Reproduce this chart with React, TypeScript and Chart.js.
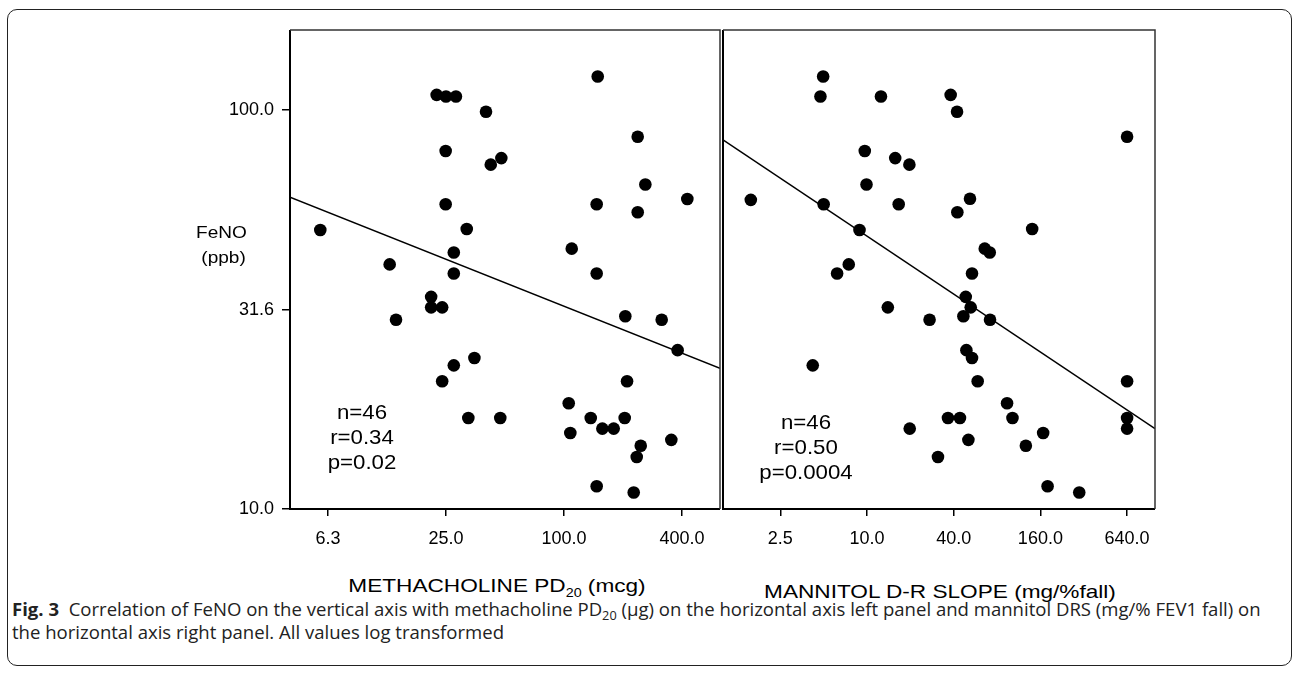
import React, { useEffect, useRef } from "react";
import { Chart, registerables } from "chart.js";

Chart.register(...registerables);

// ---- tick values and labels ----
const FENO_TICKS = [10, 31.6, 100];
const FENO_TICK_LABELS = ["10.0", "31.6", "100.0"];
const METH_TICKS = [6.25, 25, 100, 400];
const METH_TICK_LABELS = ["6.3", "25.0", "100.0", "400.0"];
const MANN_TICKS = [2.5, 10, 40, 160, 640];
const MANN_TICK_LABELS = ["2.5", "10.0", "40.0", "160.0", "640.0"];

// ---- axis ranges ----
const FENO_RANGE = [10, 158.5];
const METH_RANGE = [4, 625];
const MANN_RANGE = [1, 1000];

// ---- left panel: methacholine PD20 (mcg) vs FeNO (ppb) ----
const METH_PD20 = [
  148.6, 22.4, 25.0, 28.1, 40.0, 237.7, 24.9, 47.9, 42.3, 260, 425.8, 24.9, 146.8, 237.7, 5.71,
  31.9, 109.5, 27.4, 12.9, 27.4, 146.8, 21.0, 21.0, 23.9, 13.9, 205.5, 315, 380, 34.9, 27.4,
  23.9, 209.7, 105.7, 32.5, 47.3, 136.9, 204, 156.9, 179.3, 107.7, 246.3, 352.8, 235, 146.8, 226.8,
];
const METH_FENO = [
  121.2, 109.0, 108.0, 108.0, 98.9, 85.6, 78.9, 75.7, 72.9, 65.0, 59.8, 58.0, 58.0, 55.4, 50.0,
  50.3, 44.9, 43.9, 41.0, 38.9, 38.9, 34.0, 32.0, 32.0, 29.8, 30.4, 29.8, 25.0, 23.9, 22.9,
  20.9, 20.9, 18.4, 16.9, 16.9, 16.9, 16.9, 15.9, 15.9, 15.5, 14.4, 14.9, 13.5, 11.4, 11.0,
];
const METH_FIT_X = [4, 625];
const METH_FIT_Y = [60.4, 22.5];

// ---- right panel: mannitol D-R slope (mg/%fall) vs FeNO (ppb) ----
const MANN_DRS = [
  4.96, 4.75, 12.5, 38.1, 42.2, 640, 9.65, 15.7, 19.7, 9.92, 1.56, 5.0, 16.6, 51.9, 42.4, 140.3,
  8.87, 65.7, 71.2, 7.47, 6.2, 53.6, 48.5, 52.5, 46.7, 13.95, 27.2, 71.5, 49.0, 53.6, 4.2, 58.7,
  640, 93.9, 36.5, 44.2, 102.4, 640, 19.8, 640, 167.2, 50.6, 126.8, 31.1, 179.5, 297.8,
];
const MANN_FENO = [
  121.2, 108.0, 108.0, 109.0, 98.9, 85.6, 78.9, 75.7, 72.9, 65.0, 59.5, 58.0, 58.0, 59.9, 55.4, 50.3,
  50.0, 44.9, 43.9, 41.0, 38.9, 38.9, 34.0, 32.0, 30.4, 32.0, 29.8, 29.8, 25.0, 23.9, 22.9, 20.9,
  20.9, 18.4, 16.9, 16.9, 16.9, 16.9, 15.9, 15.9, 15.5, 14.9, 14.4, 13.5, 11.4, 11.0,
];
const MANN_FIT_X = [1, 1000];
const MANN_FIT_Y = [84.1, 15.9];

const FONT = "Arial, 'Liberation Sans', Helvetica, sans-serif";

const boxPlugin = {
  id: "panelBox",
  afterDatasetsDraw(chart: any) {
    const { ctx, chartArea: a } = chart;
    ctx.save();
    ctx.strokeStyle = "#000";
    ctx.lineWidth = 2;
    ctx.beginPath();
    ctx.moveTo(a.left, a.top);
    ctx.lineTo(a.left, a.bottom);
    ctx.lineTo(a.right, a.bottom);
    ctx.stroke();
    ctx.strokeStyle = "#333";
    ctx.lineWidth = 1.5;
    ctx.beginPath();
    ctx.moveTo(a.left, a.top);
    ctx.lineTo(a.right, a.top);
    ctx.lineTo(a.right, a.bottom);
    ctx.stroke();
    ctx.restore();
  },
};

function tickLookup(values: number[], labels: string[]) {
  return (v: number) => {
    for (let i = 0; i < values.length; i++) {
      if (Math.abs(values[i] - v) / values[i] < 1e-6) return labels[i];
    }
    return "";
  };
}

function buildPanel(
  canvas: HTMLCanvasElement,
  xs: number[],
  ys: number[],
  fitX: number[],
  fitY: number[],
  xRange: number[],
  xTicks: number[],
  xLabels: string[],
  showY: boolean,
  padding: any
) {
  const points = xs.map((x, i) => ({ x, y: ys[i] }));
  const fit = fitX.map((x, i) => ({ x, y: fitY[i] }));
  const xFmt = tickLookup(xTicks, xLabels);
  const yFmt = tickLookup(FENO_TICKS, FENO_TICK_LABELS);
  return new Chart(canvas, {
    type: "scatter",
    data: {
      datasets: [
        {
          type: "line",
          data: fit,
          borderColor: "#000",
          borderWidth: 1.5,
          pointRadius: 0,
          fill: false,
        } as any,
        {
          data: points,
          backgroundColor: "#000",
          borderWidth: 0,
          pointRadius: 6.3,
          pointHoverRadius: 6.3,
        },
      ],
    },
    options: {
      animation: false,
      responsive: false,
      devicePixelRatio: 1,
      layout: { padding, autoPadding: false },
      plugins: { legend: { display: false }, tooltip: { enabled: false } },
      scales: {
        x: {
          type: "logarithmic",
          position: "bottom",
          min: xRange[0],
          max: xRange[1],
          afterBuildTicks: (s: any) => {
            s.ticks = xTicks.map((v) => ({ value: v }));
          },
          afterFit: (s: any) => {
            s.height = 51;
            s.paddingLeft = 0;
            s.paddingRight = 0;
          },
          ticks: {
            callback: (v: any) => xFmt(Number(v)),
            color: "#000",
            font: { family: FONT, size: 18 },
            padding: 12,
            maxRotation: 0,
            autoSkip: false,
          },
          grid: {
            drawOnChartArea: false,
            drawTicks: true,
            tickLength: 7,
            color: "#000",
            lineWidth: 1.5,
          },
          border: { display: false },
        },
        y: showY
          ? {
              type: "logarithmic",
              position: "left",
              min: FENO_RANGE[0],
              max: FENO_RANGE[1],
              afterBuildTicks: (s: any) => {
                s.ticks = FENO_TICKS.map((v) => ({ value: v }));
              },
              afterFit: (s: any) => {
                s.width = 290;
                s.paddingTop = 0;
                s.paddingBottom = 0;
              },
              ticks: {
                callback: (v: any) => yFmt(Number(v)),
                color: "#000",
                font: { family: FONT, size: 18 },
                padding: 8,
                autoSkip: false,
              },
              grid: {
                drawOnChartArea: false,
                drawTicks: true,
                tickLength: 8,
                color: "#000",
                lineWidth: 1.5,
              },
              border: { display: false },
            }
          : {
              type: "logarithmic",
              display: false,
              min: FENO_RANGE[0],
              max: FENO_RANGE[1],
            },
      },
    } as any,
    plugins: [boxPlugin],
  });
}

export default function App() {
  const leftRef = useRef<HTMLCanvasElement>(null);
  const rightRef = useRef<HTMLCanvasElement>(null);

  useEffect(() => {
    const left = buildPanel(
      leftRef.current!,
      METH_PD20,
      METH_FENO,
      METH_FIT_X,
      METH_FIT_Y,
      METH_RANGE,
      METH_TICKS,
      METH_TICK_LABELS,
      true,
      { top: 30, right: 2, bottom: 0, left: 0 }
    );
    const right = buildPanel(
      rightRef.current!,
      MANN_DRS,
      MANN_FENO,
      MANN_FIT_X,
      MANN_FIT_Y,
      MANN_RANGE,
      MANN_TICKS,
      MANN_TICK_LABELS,
      false,
      { top: 30, right: 7, bottom: 0, left: 1 }
    );
    return () => {
      left.destroy();
      right.destroy();
    };
  }, []);

  const txt: React.CSSProperties = {
    position: "absolute",
    fontFamily: FONT,
    color: "#000",
    whiteSpace: "nowrap",
  };

  return (
    <div style={{ position: "absolute", left: 0, top: 0, width: 1292, height: 674, background: "#fff" }}>
      <div
        style={{
          position: "absolute",
          left: 7,
          top: 9,
          width: 1285,
          height: 657,
          border: "1.5px solid #222",
          borderRadius: 10,
          boxSizing: "border-box",
        }}
      />
      <canvas ref={leftRef} width={722} height={560} style={{ position: "absolute", left: 0, top: 0 }} />
      <canvas ref={rightRef} width={440} height={560} style={{ position: "absolute", left: 722, top: 0 }} />

      <div
        style={{
          ...txt,
          left: 196,
          top: 220,
          fontSize: 17,
          lineHeight: "25px",
          transform: "scaleX(1.12)",
          transformOrigin: "left top",
        }}
      >
        FeNO
        <br />
        &nbsp;(ppb)
      </div>

      <div
        style={{
          ...txt,
          left: 362,
          top: 399,
          fontSize: 21,
          lineHeight: "25px",
          textAlign: "center",
          transform: "translateX(-50%) scaleX(1.06)",
        }}
      >
        n=46
        <br />
        r=0.34
        <br />
        p=0.02
      </div>
      <div
        style={{
          ...txt,
          left: 806,
          top: 409,
          fontSize: 21,
          lineHeight: "25px",
          textAlign: "center",
          transform: "translateX(-50%) scaleX(1.06)",
        }}
      >
        n=46
        <br />
        r=0.50
        <br />
        p=0.0004
      </div>

      <div
        style={{
          ...txt,
          left: 497,
          top: 576,
          fontSize: 19,
          lineHeight: "19px",
          transform: "translateX(-50%) scaleX(1.19)",
        }}
      >
        METHACHOLINE PD<sub style={{ fontSize: 12, verticalAlign: "-5px", lineHeight: 0 }}>20</sub> (mcg)
      </div>
      <div
        style={{
          ...txt,
          left: 940,
          top: 582,
          fontSize: 19,
          lineHeight: "19px",
          transform: "translateX(-50%) scaleX(1.19)",
        }}
      >
        MANNITOL D-R SLOPE (mg/%fall)
      </div>

      <div
        style={{
          position: "absolute",
          left: 12,
          top: 598,
          fontFamily: "'Open Sans', 'Noto Sans', sans-serif",
          fontSize: 17.5,
          lineHeight: "23px",
          color: "#222",
          whiteSpace: "nowrap",
          transform: "scaleX(1.06)",
          transformOrigin: "left top",
        }}
      >
        <b>Fig. 3</b>&nbsp; Correlation of FeNO on the vertical axis with methacholine PD
        <sub style={{ fontSize: 12, verticalAlign: "-4px", lineHeight: 0 }}>20</sub> (µg) on the horizontal axis left panel
        and mannitol DRS (mg/% FEV1 fall) on
        <br />
        the horizontal axis right panel. All values log transformed
      </div>
    </div>
  );
}
